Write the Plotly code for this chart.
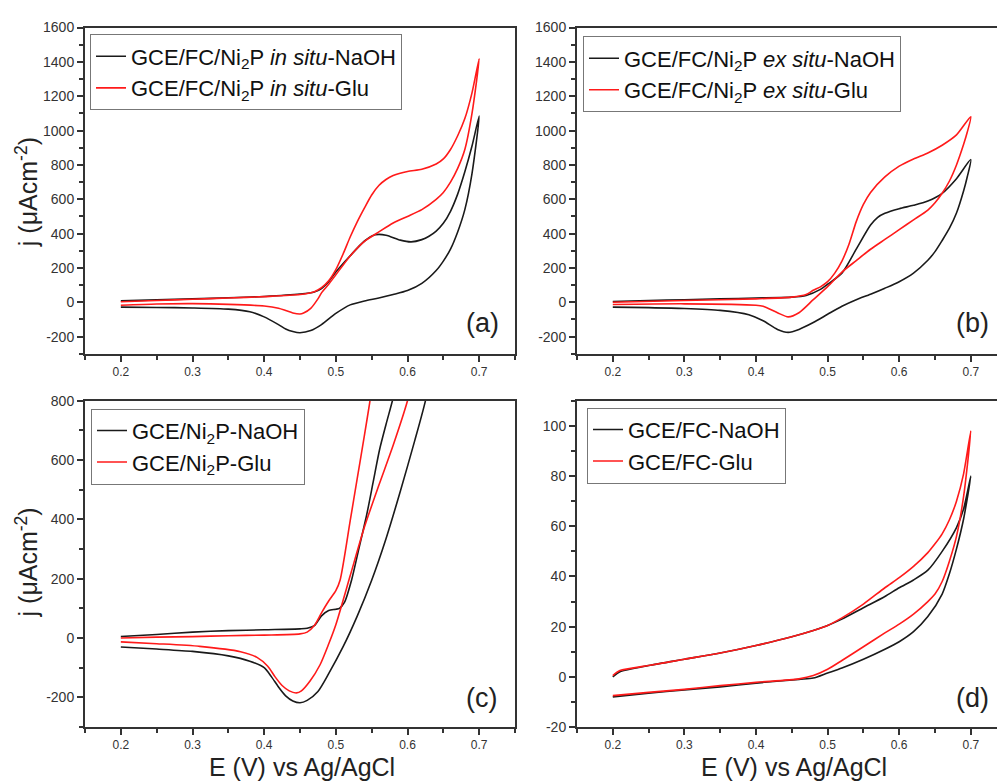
import plotly.graph_objects as go

# ---------------- data ----------------
# Panel (a): GCE/FC/Ni2P in situ
A_NAOH_E = [0.20, 0.25, 0.30, 0.35, 0.40, 0.45, 0.47, 0.48, 0.49, 0.50, 0.52, 0.54, 0.555, 0.57, 0.59, 0.605,
            0.62, 0.63, 0.64, 0.65, 0.66, 0.67, 0.68, 0.69, 0.70,
            0.69, 0.68, 0.67, 0.66, 0.65, 0.64, 0.62, 0.60, 0.58, 0.56, 0.54, 0.52, 0.50, 0.48, 0.465, 0.45,
            0.44, 0.43, 0.42, 0.40, 0.38, 0.35, 0.30, 0.25, 0.20]
A_NAOH_J = [8, 14, 20, 26, 34, 48, 60, 80, 120, 176, 271, 357, 393, 391, 362, 352,
            365, 385, 415, 460, 530, 630, 760, 910, 1085,
            750, 540, 410, 310, 240, 185, 110, 68, 45, 25, 8, -15, -65, -130, -165, -177,
            -170, -155, -130, -85, -55, -40, -33, -30, -28]
A_GLU_E = [0.20, 0.25, 0.30, 0.35, 0.40, 0.45, 0.47, 0.48, 0.49, 0.50, 0.51, 0.52, 0.53, 0.54, 0.55, 0.56,
           0.57, 0.58, 0.60, 0.62, 0.64, 0.65, 0.66, 0.67, 0.68, 0.69, 0.70,
           0.69, 0.68, 0.67, 0.66, 0.65, 0.64, 0.62, 0.60, 0.58, 0.56, 0.54, 0.52, 0.50, 0.49, 0.48, 0.475,
           0.465, 0.455, 0.45, 0.44, 0.43, 0.42, 0.40, 0.35, 0.30, 0.25, 0.20]
A_GLU_J = [3, 10, 18, 25, 33, 45, 62, 85, 125, 190, 280, 380, 470, 550, 625, 680,
           715, 738, 762, 775, 805, 835, 890, 970, 1070, 1220, 1419,
           1100, 890, 780, 700, 640, 600, 540, 500, 462, 410, 355, 270, 160, 105, 55, 20,
           -35, -62, -68, -62, -48, -35, -22, -12, -8, -10, -17]

# Panel (b): GCE/FC/Ni2P ex situ
B_NAOH_E = [0.20, 0.25, 0.30, 0.35, 0.40, 0.45, 0.47, 0.49, 0.50, 0.52, 0.54, 0.56, 0.57, 0.58, 0.60, 0.62,
            0.64, 0.66, 0.68, 0.70,
            0.695, 0.69, 0.68, 0.67, 0.66, 0.65, 0.64, 0.62, 0.60, 0.58, 0.56, 0.54, 0.52, 0.50, 0.48, 0.46,
            0.445, 0.43, 0.41, 0.39, 0.35, 0.30, 0.25, 0.20]
B_NAOH_J = [5, 10, 15, 20, 25, 30, 40, 75, 105, 170, 310, 450, 495, 518, 545, 565,
            590, 635, 720, 831,
            730, 650, 520, 430, 360, 295, 245, 170, 120, 82, 47, 15, -23, -70, -118, -158,
            -175, -158, -108, -72, -47, -36, -31, -28]
B_GLU_E = [0.20, 0.30, 0.40, 0.45, 0.47, 0.48, 0.49, 0.50, 0.51, 0.52, 0.53, 0.54, 0.55, 0.56, 0.58, 0.60,
           0.62, 0.64, 0.66, 0.68, 0.70,
           0.695, 0.69, 0.68, 0.67, 0.66, 0.65, 0.64, 0.62, 0.60, 0.58, 0.56, 0.54, 0.52, 0.50, 0.48,
           0.46, 0.445, 0.43, 0.41, 0.40, 0.30, 0.20]
B_GLU_J = [0, 10, 20, 30, 45, 70, 90, 120, 170, 240, 340, 470, 570, 640, 730, 793,
           835, 870, 915, 975, 1081,
           990, 920, 800, 705, 635, 580, 537, 480, 423, 366, 309, 243, 176, 91, 15,
           -61, -85, -61, -23, -17, -9, -13]

# Panel (c): GCE/Ni2P
C_NAOH_E = [0.20, 0.25, 0.30, 0.35, 0.40, 0.45, 0.46, 0.47, 0.48, 0.49, 0.50, 0.505, 0.512, 0.522, 0.532,
            0.543, 0.552, 0.561, 0.57, 0.58, 0.60, 0.65, 0.70,
            0.65, 0.625, 0.61, 0.59, 0.57, 0.55, 0.53, 0.51, 0.49, 0.475, 0.46, 0.45, 0.44, 0.43, 0.42,
            0.41, 0.40, 0.38, 0.35, 0.30, 0.25, 0.20]
C_NAOH_J = [5, 12, 20, 25, 28, 31, 33, 42, 75, 93, 97, 100, 120, 196, 300,
            415, 525, 635, 720, 810, 1020, 1600, 2300,
            1100, 800, 665, 495, 335, 195, 75, -30, -120, -180, -210, -218, -212, -195, -165,
            -130, -100, -78, -60, -45, -37, -30]
C_GLU_E = [0.20, 0.25, 0.30, 0.35, 0.40, 0.45, 0.46, 0.47, 0.48, 0.49, 0.50, 0.506, 0.52, 0.53, 0.54,
           0.547, 0.56, 0.60, 0.70,
           0.62, 0.60, 0.58, 0.56, 0.54, 0.52, 0.50, 0.49, 0.478, 0.464, 0.452, 0.445, 0.435, 0.425,
           0.415, 0.405, 0.39, 0.367, 0.31, 0.25, 0.20]
C_GLU_J = [0, 3, 5, 8, 10, 14, 20, 42, 85, 125, 160, 196, 395, 540, 685,
           790, 1000, 1600, 3000,
           1000, 800, 650, 515, 375, 210, 45, -20, -90, -145, -178, -185, -178, -160,
           -130, -95, -65, -46, -28, -19, -13]

# Panel (d): GCE/FC
D_NAOH_E = [0.20, 0.21, 0.25, 0.30, 0.35, 0.40, 0.45, 0.48, 0.50, 0.52, 0.55, 0.58, 0.60, 0.62, 0.64, 0.66,
            0.68, 0.69, 0.70,
            0.69, 0.68, 0.67, 0.66, 0.64, 0.62, 0.60, 0.58, 0.55, 0.52, 0.50, 0.48, 0.46, 0.40, 0.35,
            0.30, 0.25, 0.20]
D_NAOH_J = [0, 2, 4.5, 7, 9.5, 12.5, 16, 18.5, 20.5, 23, 27.5, 32, 35.5, 38.6, 42.5, 50,
            59.5, 67, 80,
            63, 51, 41, 33, 24, 18, 14, 11, 7, 3.5, 1.5, -0.5, -1, -2.5, -4,
            -5.2, -6.5, -8]
D_GLU_E = [0.20, 0.21, 0.25, 0.30, 0.35, 0.40, 0.45, 0.48, 0.50, 0.52, 0.55, 0.58, 0.60, 0.62, 0.64, 0.65,
           0.66, 0.67, 0.68, 0.69, 0.70,
           0.69, 0.68, 0.67, 0.66, 0.65, 0.64, 0.62, 0.60, 0.58, 0.55, 0.52, 0.50, 0.48, 0.46, 0.40,
           0.35, 0.30, 0.25, 0.20]
D_GLU_J = [0.5, 2.5, 4.5, 7, 9.5, 12.5, 16, 18.5, 20.5, 23.5, 29, 35.5, 39.5, 44, 49.5, 53,
           57, 62.5, 70, 81, 98,
           72, 56, 46, 38, 33, 30, 25, 21, 17.5, 12, 6.5, 3, 0.5, -0.8, -2.2,
           -3.5, -5, -6.2, -7.5]

LEGEND_A = ["GCE/FC/Ni<sub>2</sub>P <i>in situ</i>-NaOH", "GCE/FC/Ni<sub>2</sub>P <i>in situ</i>-Glu"]
LEGEND_B = ["GCE/FC/Ni<sub>2</sub>P <i>ex situ</i>-NaOH", "GCE/FC/Ni<sub>2</sub>P <i>ex situ</i>-Glu"]
LEGEND_C = ["GCE/Ni<sub>2</sub>P-NaOH", "GCE/Ni<sub>2</sub>P-Glu"]
LEGEND_D = ["GCE/FC-NaOH", "GCE/FC-Glu"]
PANEL_LABELS = ["(a)", "(b)", "(c)", "(d)"]

X_TICKS = [0.2, 0.3, 0.4, 0.5, 0.6, 0.7]
X_TICKTEXT = ["0.2", "0.3", "0.4", "0.5", "0.6", "0.7"]
Y_TICKS_AB = [-200, 0, 200, 400, 600, 800, 1000, 1200, 1400, 1600]
Y_TICKS_C = [-200, 0, 200, 400, 600, 800]
Y_TICKS_D = [-20, 0, 20, 40, 60, 80, 100]

X_TITLE = "E (V) vs Ag/AgCl"
Y_TITLE = "j (\u03bcAcm<sup>-2</sup>)"

# ---------------- layout geometry ----------------
W, H = 997, 784
FONT = "Liberation Sans, Arial, sans-serif"
BLACK = "#1a1a1a"
RED = "#ff1a1a"
AX = "#333333"


def px_x(p):
    return p / W


def px_y(p):
    return 1 - p / H


fig = go.Figure()

panels = [
    ("x", "y", "legend", (A_NAOH_E, A_NAOH_J), (A_GLU_E, A_GLU_J), LEGEND_A, (85, 515), (20, 353),
     [0.15, 0.75], [-300, 1600], Y_TICKS_AB, 100, True),
    ("x2", "y2", "legend2", (B_NAOH_E, B_NAOH_J), (B_GLU_E, B_GLU_J), LEGEND_B, (577, 997), (20, 353),
     [0.15, 0.15 + 420 / 716], [-300, 1600], Y_TICKS_AB, 100, False),
    ("x3", "y3", "legend3", (C_NAOH_E, C_NAOH_J), (C_GLU_E, C_GLU_J), LEGEND_C, (85, 515), (401, 734),
     [0.15, 0.75], [-300, 800], Y_TICKS_C, 100, True),
    ("x4", "y4", "legend4", (D_NAOH_E, D_NAOH_J), (D_GLU_E, D_GLU_J), LEGEND_D, (577, 997), (401, 734),
     [0.15, 0.15 + 420 / 716], [-20, 110], Y_TICKS_D, 10, False),
]

legend_pos = [(90, 27), (583, 29), (91, 409), (587, 408)]
label_pos = [(482, 322), (972, 322), (481, 704), (972, 704)]

for i, (xa, ya, lg, blk, red, names, xd, yd, xr, yr, yt, ymin, mir) in enumerate(panels):
    for (e, j), col, nm in ((blk, BLACK, names[0]), (red, RED, names[1])):
        fig.add_trace(go.Scatter(
            x=e, y=j, mode="lines", name=nm, xaxis=xa, yaxis=ya, legend=lg,
            legendgroup=f"{lg}_{nm}",
            line=dict(color=col, width=1.6, shape="spline", smoothing=0.7),
            showlegend=True, hoverinfo="skip"))

    sfx = "" if i == 0 else str(i + 1)
    fig.layout["xaxis" + sfx] = dict(
        domain=[px_x(xd[0]), px_x(xd[1])], range=xr, anchor=ya,
        showline=True, linecolor=AX, linewidth=2, mirror=True,
        ticks="outside", ticklen=6, tickwidth=1.5, tickcolor=AX,
        tickmode="array", tickvals=X_TICKS, ticktext=X_TICKTEXT,
        tickfont=dict(family=FONT, size=12, color=AX),
        minor=dict(ticks="outside", ticklen=4, tickwidth=1.5, tickcolor=AX,
                   tickmode="linear", tick0=0, dtick=0.05),
        showgrid=False, zeroline=False, fixedrange=True)
    fig.layout["yaxis" + sfx] = dict(
        domain=[px_y(yd[1]), px_y(yd[0])], range=yr, anchor=xa,
        showline=True, linecolor=AX, linewidth=2, mirror=mir,
        ticks="outside", ticklen=6, tickwidth=1.5, tickcolor=AX,
        tickmode="array", tickvals=yt, ticktext=[str(v) for v in yt],
        tickfont=dict(family=FONT, size=14, color=AX),
        minor=dict(ticks="outside", ticklen=4, tickwidth=1.5, tickcolor=AX,
                   tickmode="linear", tick0=0, dtick=ymin),
        showgrid=False, zeroline=False, fixedrange=True)

    lx, ly = legend_pos[i]
    fig.layout[lg] = dict(
        x=px_x(lx), y=px_y(ly), xanchor="left", yanchor="top",
        bgcolor="white", bordercolor="#777777", borderwidth=1,
        font=dict(family=FONT, size=22, color="#111111"),
        tracegroupgap=1, itemwidth=30, traceorder="normal")

    ax_, ay_ = label_pos[i]
    fig.add_annotation(x=px_x(ax_), y=px_y(ay_), xref="paper", yref="paper",
                       text=PANEL_LABELS[i], showarrow=False, xanchor="center", yanchor="middle",
                       font=dict(family=FONT, size=27, color="#222222"))

# axis titles
for yc in (188, 566):
    fig.add_annotation(x=px_x(27), y=px_y(yc), xref="paper", yref="paper", text=Y_TITLE,
                       textangle=-90, showarrow=False, xanchor="center", yanchor="middle",
                       font=dict(family=FONT, size=25, color="#222222"))
for xc in (302, 794):
    fig.add_annotation(x=px_x(xc), y=px_y(775), xref="paper", yref="paper", text=X_TITLE,
                       showarrow=False, xanchor="center", yanchor="middle",
                       font=dict(family=FONT, size=25, color="#222222"))

fig.update_layout(
    width=W, height=H, margin=dict(l=0, r=0, t=0, b=0),
    paper_bgcolor="white", plot_bgcolor="white",
    font=dict(family=FONT, color="#222222"),
)

fig.write_html("out.html", config={"displayModeBar": False})
